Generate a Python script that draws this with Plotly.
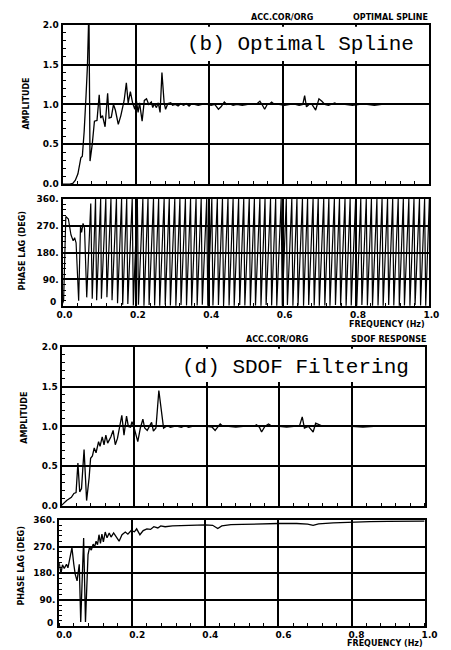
import plotly.graph_objects as go

# ---------------- data ----------------
amp_b_freq = [0.000, 0.010, 0.020, 0.028, 0.035, 0.042, 0.047, 0.050, 0.054, 0.059, 0.064, 0.068, 0.072,
              0.075, 0.081, 0.087, 0.094, 0.100, 0.104, 0.109, 0.116, 0.123, 0.127, 0.133, 0.139, 0.144,
              0.152, 0.159, 0.168, 0.174, 0.179, 0.185, 0.191, 0.197, 0.201, 0.206, 0.210, 0.217, 0.223,
              0.229, 0.235, 0.242, 0.246, 0.250, 0.256, 0.261, 0.266, 0.271, 0.277, 0.281, 0.287, 0.295,
              0.300, 0.308, 0.315, 0.322, 0.330, 0.338, 0.345, 0.352, 0.360, 0.370, 0.380, 0.395, 0.405,
              0.415, 0.425, 0.432, 0.441, 0.448, 0.455, 0.465, 0.475, 0.490, 0.505, 0.520, 0.530, 0.538,
              0.545, 0.551, 0.558, 0.565, 0.570, 0.578, 0.590, 0.605, 0.620, 0.635, 0.645, 0.655, 0.660,
              0.665, 0.672, 0.680, 0.690, 0.699, 0.707, 0.715, 0.725, 0.742, 0.750, 0.770, 0.790, 0.810,
              0.830, 0.850, 0.870, 0.890, 0.911, 0.930, 0.960, 1.000]
amp_b_val = [0.00, 0.00, 0.00, 0.01, 0.05, 0.13, 0.25, 0.33, 0.35, 0.66, 1.10, 1.49, 2.20,
             0.29, 0.50, 0.79, 0.80, 1.12, 0.83, 0.86, 0.72, 1.14, 0.83, 0.84, 1.00, 0.93,
             0.75, 0.86, 1.05, 1.27, 1.02, 1.16, 1.02, 0.94, 1.06, 0.90, 1.02, 0.79, 1.05,
             1.07, 1.00, 1.03, 0.96, 1.01, 0.96, 1.02, 0.90, 1.40, 1.02, 0.94, 1.01, 1.02,
             0.99, 1.00, 0.98, 1.01, 0.99, 1.01, 0.98, 1.01, 1.00, 0.99, 1.00, 1.00, 0.99,
             1.00, 0.94, 0.97, 1.03, 1.00, 1.01, 0.99, 1.00, 0.99, 1.00, 1.00, 1.01, 1.04,
             0.99, 0.94, 1.00, 1.01, 1.03, 1.00, 1.00, 0.99, 1.00, 1.00, 0.99, 1.00, 1.11,
             0.97, 1.00, 1.00, 0.93, 1.07, 1.04, 1.00, 0.99, 1.02, 1.00, 1.00, 0.99, 1.00,
             1.00, 0.99, 1.00, 1.00, 1.01, 1.00, 1.00, 1.00]

# wrapped phase (b): early part, then wrap cycles (low point, then 360 top)
phase_b_early_freq = [0.000, 0.003, 0.009, 0.016, 0.023, 0.029, 0.033, 0.037, 0.044, 0.049, 0.052,
                      0.056, 0.060, 0.066, 0.077, 0.081, 0.090]
phase_b_early_deg = [9, 19, 301, 293, 240, 220, 230, 213, 19, 268, 248, 278, 262, 30, 345, 25, 360]
phase_b_lo_freq = [0.093, 0.106, 0.121, 0.135, 0.150, 0.164, 0.178, 0.193, 0.207, 0.222, 0.236, 0.251,
                   0.265, 0.280, 0.294, 0.309, 0.323, 0.338, 0.352, 0.367, 0.381, 0.396, 0.410, 0.425,
                   0.439, 0.454, 0.468, 0.483, 0.497, 0.512, 0.526, 0.541, 0.555, 0.570, 0.584, 0.599,
                   0.613, 0.628, 0.642, 0.657, 0.671, 0.686, 0.700, 0.715, 0.729, 0.744, 0.758, 0.773,
                   0.787, 0.802, 0.816, 0.831, 0.845, 0.860, 0.874, 0.889, 0.903, 0.918, 0.932, 0.947,
                   0.961, 0.976, 0.990]
phase_b_lo_deg = [20, 25, 30, 20, 10, 5, 8, 3, 5, 2, 4, 3, 2, 5, 3, 2, 4, 3, 2, 3, 5, 2, 3, 4, 2, 3,
                  2, 4, 3, 2, 3, 2, 4, 3, 2, 3, 4, 2, 3, 2, 4, 3, 2, 3, 2, 4, 3, 2, 3, 2, 4, 3, 2,
                  3, 2, 4, 3, 2, 3, 2, 4, 3, 2]
phase_b_hi_freq = [0.104, 0.118, 0.132, 0.147, 0.161, 0.175, 0.190, 0.204, 0.219, 0.233, 0.248, 0.262,
                   0.277, 0.291, 0.306, 0.320, 0.335, 0.349, 0.364, 0.378, 0.393, 0.407, 0.422, 0.436,
                   0.451, 0.465, 0.480, 0.494, 0.509, 0.523, 0.538, 0.552, 0.567, 0.581, 0.596, 0.610,
                   0.625, 0.639, 0.654, 0.668, 0.683, 0.697, 0.712, 0.726, 0.741, 0.755, 0.770, 0.784,
                   0.799, 0.813, 0.828, 0.842, 0.857, 0.871, 0.886, 0.900, 0.915, 0.929, 0.944, 0.958,
                   0.973, 0.987, 1.000]

amp_d_freq = [0.000, 0.014, 0.027, 0.034, 0.040, 0.045, 0.050, 0.055, 0.062, 0.069, 0.076, 0.080, 0.085,
              0.090, 0.095, 0.102, 0.106, 0.112, 0.117, 0.122, 0.127, 0.136, 0.142, 0.148, 0.154, 0.161,
              0.166, 0.172, 0.179, 0.184, 0.190, 0.194, 0.200, 0.210, 0.217, 0.224, 0.229, 0.236, 0.242,
              0.248, 0.253, 0.260, 0.268, 0.276, 0.281, 0.291, 0.300, 0.310, 0.320, 0.330, 0.340, 0.350,
              0.360, 0.380, 0.400, 0.415, 0.423, 0.430, 0.437, 0.445, 0.460, 0.480, 0.500, 0.520, 0.530,
              0.537, 0.545, 0.551, 0.560, 0.570, 0.580, 0.600, 0.620, 0.640, 0.655, 0.663, 0.669, 0.680,
              0.693, 0.700, 0.710, 0.720, 0.740, 0.760, 0.780, 0.800, 0.830, 0.860, 0.890, 0.920, 0.950,
              1.000]
amp_d_val = [0.01, 0.07, 0.11, 0.16, 0.17, 0.54, 0.18, 0.22, 0.71, 0.07, 0.36, 0.60, 0.63,
             0.73, 0.67, 0.81, 0.75, 0.87, 0.77, 0.89, 0.79, 0.87, 0.95, 0.77, 0.85, 1.00,
             1.14, 0.89, 1.13, 1.00, 0.99, 1.06, 0.98, 0.81, 0.98, 1.09, 0.98, 0.95, 1.00,
             1.05, 0.94, 0.98, 1.45, 1.17, 0.98, 1.01, 0.99, 1.00, 1.00, 0.99, 1.01, 0.99,
             1.00, 1.00, 1.00, 0.99, 0.95, 0.99, 1.03, 1.00, 1.00, 0.99, 1.00, 1.00, 1.00,
             1.02, 0.99, 0.93, 1.00, 1.03, 1.00, 1.00, 0.99, 1.00, 1.00, 1.12, 0.98, 1.00,
             0.93, 1.04, 1.02, 1.00, 1.01, 1.00, 1.00, 1.00, 0.99, 1.00, 1.00, 1.01, 1.00,
             1.00]

phase_d_freq = [0.000, 0.005, 0.009, 0.014, 0.020, 0.024, 0.028, 0.035, 0.040, 0.044, 0.049, 0.055,
                0.059, 0.063, 0.067, 0.072, 0.079, 0.083, 0.088, 0.093, 0.097, 0.101, 0.105, 0.109,
                0.113, 0.117, 0.121, 0.126, 0.131, 0.137, 0.142, 0.149, 0.155, 0.164, 0.172, 0.181,
                0.188, 0.197, 0.206, 0.212, 0.221, 0.230, 0.240, 0.250, 0.259, 0.270, 0.278, 0.290,
                0.310, 0.330, 0.350, 0.370, 0.400, 0.420, 0.434, 0.445, 0.470, 0.500, 0.550, 0.600,
                0.650, 0.680, 0.695, 0.710, 0.750, 0.800, 0.850, 0.900, 0.950, 1.000]
phase_d_deg = [215, 179, 208, 196, 210, 198, 222, 266, 210, 176, 154, 210,
               15, 165, 299, 15, 243, 266, 258, 278, 269, 288, 276, 310,
               281, 312, 286, 319, 300, 316, 302, 316, 305, 288, 310, 319,
               312, 324, 320, 330, 310, 324, 330, 328, 337, 333, 340, 337,
               340, 341, 342, 343, 343, 342, 331, 340, 344, 345, 347, 348,
               348, 346, 342, 347, 350, 353, 354, 355, 355, 356]

amp_ticks = [0, 0.5, 1.0, 1.5, 2.0]
amp_ticktext = ["0.0", "0.5", "1.0", "1.5", "2.0"]
phase_ticks = [0, 90, 180, 270, 360]
phase_ticktext = ["", "90.", "180.", "270.", "360."]   # the raised "0" is placed separately
freq_ticks = [0.0, 0.2, 0.4, 0.6, 0.8, 1.0]
freq_ticktext = ["0.0", "0.2", "0.4", "0.6", "0.8", "1.0"]

# ---------------- build phase (b) sequence ----------------
pb_f = list(phase_b_early_freq)
pb_d = list(phase_b_early_deg)
for lf, ld, hf in zip(phase_b_lo_freq, phase_b_lo_deg, phase_b_hi_freq):
    pb_f += [lf, hf]
    pb_d += [ld, 360]

# ---------------- figure ----------------
W, H = 451, 650


def fx(px):
    return px / W


def fy(py):
    return 1 - py / H


panels = {
    1: dict(x=(59, 442), y=(20, 182), shift=0),
    2: dict(x=(59, 442), y=(197, 306), shift=2),
    3: dict(x=(58, 437), y=(347, 509), shift=0),
    4: dict(x=(55.5, 437), y=(523, 631), shift=5),
}

fig = go.Figure()
line = dict(color="black", width=1.3)
fig.add_trace(go.Scatter(x=amp_b_freq, y=amp_b_val, mode="lines", line=line, xaxis="x", yaxis="y"))
fig.add_trace(go.Scatter(x=pb_f, y=pb_d, mode="lines", line=dict(color="black", width=1.2), xaxis="x2", yaxis="y2"))
fig.add_trace(go.Scatter(x=amp_d_freq, y=amp_d_val, mode="lines", line=line, xaxis="x3", yaxis="y3"))
fig.add_trace(go.Scatter(x=phase_d_freq, y=phase_d_deg, mode="lines", line=line, xaxis="x4", yaxis="y4"))

tickfont = dict(family="DejaVu Sans", size=9, color="black", weight="bold")
common = dict(showline=True, linecolor="black", linewidth=2, mirror=True, showgrid=True,
              gridcolor="black", gridwidth=2, zeroline=False, ticks="", tickfont=tickfont)

layout = dict(width=W, height=H, margin=dict(l=0, r=0, t=0, b=0), showlegend=False,
              paper_bgcolor="white", plot_bgcolor="white", hovermode=False)

for i, p in panels.items():
    sx = "" if i == 1 else str(i)
    xa = dict(common, domain=[fx(p["x"][0]), fx(p["x"][1])], range=[0, 1], tickvals=freq_ticks,
              ticktext=freq_ticktext, anchor="y" + sx, showticklabels=(i in (2, 4)),
              ticklabelstandoff=-1, ticklabelshift=p["shift"],
              minor=dict(ticks="inside", dtick=0.04, ticklen=3, tickcolor="black", tickwidth=1, showgrid=False))
    if i in (1, 3):
        ya = dict(common, domain=[fy(p["y"][1]), fy(p["y"][0])], range=[0, 2], tickvals=amp_ticks,
                  ticktext=amp_ticktext, anchor="x" + sx,
                  minor=dict(ticks="inside", dtick=0.1, ticklen=3, tickcolor="black", tickwidth=1, showgrid=False))
    else:
        ya = dict(common, domain=[fy(p["y"][1]), fy(p["y"][0])], range=[0, 360], tickvals=phase_ticks,
                  ticktext=phase_ticktext, anchor="x" + sx,
                  minor=dict(ticks="inside", dtick=18, ticklen=3, tickcolor="black", tickwidth=1, showgrid=False))
    layout["xaxis" + sx] = xa
    layout["yaxis" + sx] = ya

fig.update_layout(**layout)

small = dict(family="DejaVu Sans", size=8, color="black", weight="bold")
big = dict(family="Liberation Mono", size=21, color="black")


def ann(text, px, py, font, xanchor="center", yanchor="middle", angle=0):
    fig.add_annotation(text=text, x=fx(px), y=fy(py), xref="paper", yref="paper", showarrow=False,
                       font=font, xanchor=xanchor, yanchor=yanchor, textangle=angle)


# white paste-up boxes behind the panel labels
fig.add_shape(type="rect", xref="paper", yref="paper", x0=fx(197), x1=fx(440), y0=fy(57), y1=fy(22),
              fillcolor="white", line=dict(width=0), layer="above")
fig.add_shape(type="rect", xref="paper", yref="paper", x0=fx(192), x1=fx(435), y0=fy(383), y1=fy(349),
              fillcolor="white", line=dict(width=0), layer="above")

ann("ACC.COR/ORG", 288, 13, small)
ann("OPTIMAL SPLINE", 401, 13, small)
ann("ACC.COR/ORG", 283, 340, small)
ann("SDOF RESPONSE", 399, 340, small)
ann("FREQUENCY (Hz)", 398, 324, small)
ann("FREQUENCY (Hz)", 396, 648, small)
ann("AMPLITUDE", 21, 100, small, angle=-90)
ann("AMPLITUDE", 19, 419, small, angle=-90)
ann("PHASE LAG (DEG)", 17, 250, small, angle=-90)
ann("PHASE LAG (DEG)", 16, 570, small, angle=-90)
ann("0", 49, 302, dict(tickfont))
ann("0", 46, 628, dict(tickfont))
ann("(b) Optimal Spline", 428, 40, big, xanchor="right")
ann("(d) SDOF Filtering", 423, 368, big, xanchor="right")

fig.write_html("out.html", config={"displayModeBar": False, "staticPlot": True},
               post_script="document.body.style.margin='0';document.body.style.overflow='hidden';")
